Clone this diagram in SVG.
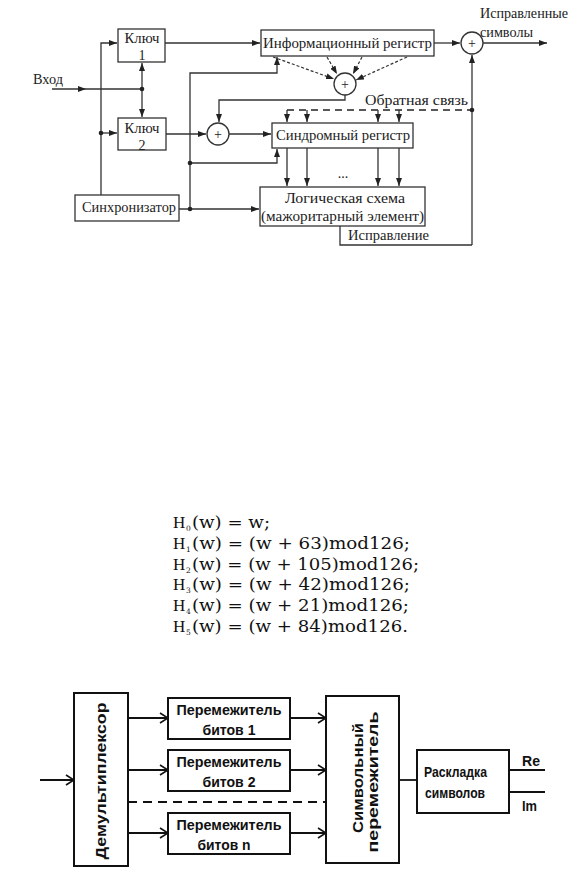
<svg xmlns="http://www.w3.org/2000/svg" width="577" height="874" viewBox="0 0 577 874">
<style>
.bx{fill:#fff;stroke:#333;stroke-width:1.3}
.ln{fill:none;stroke:#333;stroke-width:1.3}
.dl{fill:none;stroke:#333;stroke-width:1.2;stroke-dasharray:3 2}
.fb{fill:none;stroke:#222;stroke-width:1.4;stroke-dasharray:7 5}
.t{font-family:"Liberation Serif","DejaVu Serif",serif;font-size:14px;fill:#222}
.f{font-family:"DejaVu Serif","Liberation Serif",serif;font-size:17px;fill:#111}
.fh{font-family:"Liberation Serif","DejaVu Serif",serif}
.fs{font-size:7.5px}
.b{fill:#fff;stroke:#111;stroke-width:2}
.bl{fill:none;stroke:#111;stroke-width:1.8}
.bd{fill:none;stroke:#111;stroke-width:1.8;stroke-dasharray:9 6}
.s{font-family:"Liberation Sans","DejaVu Sans",sans-serif;font-weight:bold;font-size:14px;fill:#111}
.dot{fill:#222}
</style>
<defs>
<marker id="a" viewBox="0 0 8 6" refX="8" refY="3" markerWidth="8" markerHeight="6" orient="auto" markerUnits="userSpaceOnUse"><path d="M0,0 L8,3 L0,6 z" fill="#222"/></marker>
<marker id="o" viewBox="0 0 10 12" refX="9" refY="6" markerWidth="10" markerHeight="12" orient="auto" markerUnits="userSpaceOnUse"><path d="M1,1 L9,6 L1,11" fill="none" stroke="#111" stroke-width="1.6"/></marker>
</defs>

<!-- Top diagram -->
<g id="connectors-top">
<line class="ln" x1="52" y1="89" x2="142" y2="89"/>
<path d="M78,86 L86,89 L78,92 z" fill="#222"/>
<line class="ln" x1="142" y1="89" x2="142" y2="63" marker-end="url(#a)"/>
<line class="ln" x1="142" y1="89" x2="142" y2="117" marker-end="url(#a)"/>
<path class="ln" d="M101,195 L101,43 L117,43" marker-end="url(#a)"/>
<line class="ln" x1="101" y1="133" x2="117" y2="133" marker-end="url(#a)"/>
<line class="ln" x1="165" y1="43" x2="260" y2="43" marker-end="url(#a)"/>
<line class="ln" x1="434" y1="43" x2="460" y2="43" marker-end="url(#a)"/>
<line class="ln" x1="483" y1="43" x2="547" y2="43" marker-end="url(#a)"/>
<line class="ln" x1="472" y1="245" x2="472" y2="55" marker-end="url(#a)"/>
<path class="ln" d="M340,226 L340,245 L472,245"/>
<line class="fb" x1="287" y1="110" x2="472" y2="110"/>
<line class="ln" x1="287" y1="110" x2="287" y2="122" marker-end="url(#a)"/>
<line class="ln" x1="307" y1="110" x2="307" y2="122" marker-end="url(#a)"/>
<line class="ln" x1="378" y1="110" x2="378" y2="122" marker-end="url(#a)"/>
<line class="ln" x1="399" y1="110" x2="399" y2="122" marker-end="url(#a)"/>
<line class="ln" x1="287" y1="148" x2="287" y2="186" marker-end="url(#a)"/>
<line class="ln" x1="307" y1="148" x2="307" y2="186" marker-end="url(#a)"/>
<line class="ln" x1="378" y1="148" x2="378" y2="186" marker-end="url(#a)"/>
<line class="ln" x1="399" y1="148" x2="399" y2="186" marker-end="url(#a)"/>
<line class="dl" x1="273" y1="57" x2="334" y2="79" marker-end="url(#a)"/>
<line class="dl" x1="327" y1="57" x2="337" y2="74" marker-end="url(#a)"/>
<line class="dl" x1="362" y1="57" x2="353" y2="74" marker-end="url(#a)"/>
<line class="dl" x1="407" y1="57" x2="356" y2="80" marker-end="url(#a)"/>
<path class="ln" d="M345,95 L345,100 L219,100 L219,122" marker-end="url(#a)"/>
<line class="ln" x1="166" y1="134" x2="206" y2="134" marker-end="url(#a)"/>
<line class="ln" x1="229" y1="134" x2="271" y2="134" marker-end="url(#a)"/>
<path class="ln" d="M190,209 L190,73 L277,73 L277,57" marker-end="url(#a)"/>
<path class="ln" d="M190,163 L277,163 L277,149" marker-end="url(#a)"/>
<line class="ln" x1="179" y1="209" x2="259" y2="209" marker-end="url(#a)"/>
<circle class="dot" cx="142" cy="89" r="2.3"/>
<circle class="dot" cx="101" cy="133" r="2.3"/>
<circle class="dot" cx="190" cy="163" r="2.3"/>
<circle class="dot" cx="190" cy="209" r="2.3"/>
<circle class="dot" cx="472" cy="110" r="2.3"/>
</g>

<text class="t" x="33" y="84" textLength="30" lengthAdjust="spacingAndGlyphs">Вход</text>
<text class="t" x="480" y="18" textLength="88" lengthAdjust="spacingAndGlyphs">Исправленные</text>
<text class="t" x="480" y="37" textLength="53" lengthAdjust="spacingAndGlyphs">символы</text>
<text class="t" x="365" y="105" textLength="103" lengthAdjust="spacingAndGlyphs">Обратная  связь</text>
<text class="t" x="343" y="178" text-anchor="middle">...</text>

<g id="key1">
<rect class="bx" x="118" y="29" width="47" height="33"/>
<text class="t" x="142" y="43" text-anchor="middle" textLength="35" lengthAdjust="spacingAndGlyphs">Ключ</text>
<text class="t" x="142" y="60" text-anchor="middle">1</text>
</g>
<g id="key2">
<rect class="bx" x="118" y="118" width="48" height="32"/>
<text class="t" x="142" y="133" text-anchor="middle" textLength="35" lengthAdjust="spacingAndGlyphs">Ключ</text>
<text class="t" x="142" y="150" text-anchor="middle">2</text>
</g>
<g id="sync">
<rect class="bx" x="75" y="195" width="104" height="26"/>
<text class="t" x="82" y="212" textLength="94" lengthAdjust="spacingAndGlyphs">Синхронизатор</text>
</g>
<g id="inforeg">
<rect class="bx" x="261" y="30" width="173" height="26"/>
<text class="t" x="263" y="48" textLength="169" lengthAdjust="spacingAndGlyphs">Информационный регистр</text>
</g>
<g id="sum-out">
<circle class="bx" cx="472" cy="43" r="11"/>
<text class="t" x="472" y="48" text-anchor="middle" font-size="12">+</text>
</g>
<g id="sum-info">
<circle class="bx" cx="345" cy="84" r="11"/>
<text class="t" x="345" y="89" text-anchor="middle" font-size="12">+</text>
</g>
<g id="sum-syn">
<circle class="bx" cx="218" cy="134" r="11"/>
<text class="t" x="218" y="139" text-anchor="middle" font-size="12">+</text>
</g>
<g id="synreg">
<rect class="bx" x="272" y="123" width="141" height="25"/>
<text class="t" x="276" y="140" textLength="134" lengthAdjust="spacingAndGlyphs">Синдромный регистр</text>
</g>
<g id="logic">
<rect class="bx" x="260" y="187" width="165" height="39"/>
<text class="t" x="285" y="203" textLength="120" lengthAdjust="spacingAndGlyphs">Логическая схема</text>
<text class="t" x="261" y="221" textLength="163" lengthAdjust="spacingAndGlyphs">(мажоритарный элемент)</text>
</g>
<text class="t" x="348" y="240" textLength="81" lengthAdjust="spacingAndGlyphs">Исправление</text>

<!-- Formulas -->
<g id="formulas">
<text class="f" y="528"><tspan class="fh" x="173">H</tspan><tspan class="fs" x="186" dy="3">0</tspan><tspan x="192" dy="-3" textLength="78" lengthAdjust="spacingAndGlyphs">(w) = w;</tspan></text>
<text class="f" y="549"><tspan class="fh" x="173">H</tspan><tspan class="fs" x="186" dy="3">1</tspan><tspan x="192" dy="-3" textLength="218" lengthAdjust="spacingAndGlyphs">(w) = (w + 63)mod126;</tspan></text>
<text class="f" y="570"><tspan class="fh" x="173">H</tspan><tspan class="fs" x="186" dy="3">2</tspan><tspan x="192" dy="-3" textLength="227" lengthAdjust="spacingAndGlyphs">(w) = (w + 105)mod126;</tspan></text>
<text class="f" y="590"><tspan class="fh" x="173">H</tspan><tspan class="fs" x="186" dy="3">3</tspan><tspan x="192" dy="-3" textLength="218" lengthAdjust="spacingAndGlyphs">(w) = (w + 42)mod126;</tspan></text>
<text class="f" y="611"><tspan class="fh" x="173">H</tspan><tspan class="fs" x="186" dy="3">4</tspan><tspan x="192" dy="-3" textLength="217" lengthAdjust="spacingAndGlyphs">(w) = (w + 21)mod126;</tspan></text>
<text class="f" y="632"><tspan class="fh" x="173">H</tspan><tspan class="fs" x="186" dy="3">5</tspan><tspan x="192" dy="-3" textLength="216" lengthAdjust="spacingAndGlyphs">(w) = (w + 84)mod126.</tspan></text>
</g>

<!-- Bottom diagram -->
<g id="connectors-bottom">
<line class="bl" x1="40" y1="780" x2="74" y2="780" marker-end="url(#o)"/>
<line class="bl" x1="128" y1="718" x2="168" y2="718" marker-end="url(#o)"/>
<line class="bl" x1="128" y1="770" x2="168" y2="770" marker-end="url(#o)"/>
<line class="bl" x1="128" y1="833" x2="168" y2="833" marker-end="url(#o)"/>
<line class="bd" x1="128" y1="802" x2="326" y2="802"/>
<line class="bl" x1="290" y1="718" x2="326" y2="718" marker-end="url(#o)"/>
<line class="bl" x1="290" y1="770" x2="326" y2="770" marker-end="url(#o)"/>
<line class="bl" x1="290" y1="833" x2="326" y2="833" marker-end="url(#o)"/>
<line class="bl" x1="399" y1="780" x2="417" y2="780"/>
<line class="bl" x1="509" y1="770" x2="545" y2="770"/>
<line class="bl" x1="509" y1="792" x2="545" y2="792"/>
</g>
<g id="demux">
<rect class="b" x="74" y="693" width="54" height="173"/>
<text class="s" transform="translate(106,781) rotate(-90)" text-anchor="middle" textLength="157" lengthAdjust="spacingAndGlyphs">Демультиплексор</text>
</g>
<g id="bi1">
<rect class="b" x="168" y="698" width="122" height="41"/>
<text class="s" x="229" y="715" text-anchor="middle" textLength="105" lengthAdjust="spacingAndGlyphs">Перемежитель</text>
<text class="s" x="229" y="735" text-anchor="middle" textLength="53" lengthAdjust="spacingAndGlyphs">битов 1</text>
</g>
<g id="bi2">
<rect class="b" x="168" y="750" width="122" height="41"/>
<text class="s" x="229" y="767" text-anchor="middle" textLength="105" lengthAdjust="spacingAndGlyphs">Перемежитель</text>
<text class="s" x="229" y="787" text-anchor="middle" textLength="53" lengthAdjust="spacingAndGlyphs">битов 2</text>
</g>
<g id="bin">
<rect class="b" x="168" y="813" width="122" height="41"/>
<text class="s" x="229" y="830" text-anchor="middle" textLength="105" lengthAdjust="spacingAndGlyphs">Перемежитель</text>
<text class="s" x="224" y="850" text-anchor="middle" textLength="53" lengthAdjust="spacingAndGlyphs">битов n</text>
</g>
<g id="symint">
<rect class="b" x="326" y="696" width="73" height="167"/>
<text class="s" transform="translate(363,778) rotate(-90)" text-anchor="middle" textLength="110" lengthAdjust="spacingAndGlyphs">Символьный</text>
<text class="s" transform="translate(378,782) rotate(-90)" text-anchor="middle" textLength="141" lengthAdjust="spacingAndGlyphs">перемежитель</text>
</g>
<g id="mapper">
<rect class="b" x="417" y="750" width="92" height="63"/>
<text class="s" x="424" y="777" textLength="63" lengthAdjust="spacingAndGlyphs">Раскладка</text>
<text class="s" x="425" y="798" textLength="60" lengthAdjust="spacingAndGlyphs">символов</text>
</g>
<text class="s" x="522" y="766" font-weight="normal" textLength="18" lengthAdjust="spacingAndGlyphs">Re</text>
<text class="s" x="522" y="811" font-weight="normal" textLength="15" lengthAdjust="spacingAndGlyphs">Im</text>
</svg>
